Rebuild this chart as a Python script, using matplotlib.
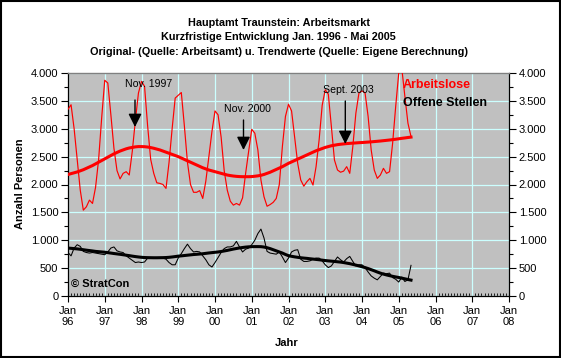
import numpy as np
import matplotlib
matplotlib.use("Agg")
import matplotlib.pyplot as plt
from matplotlib.patches import Rectangle
from matplotlib.ticker import FixedLocator, FuncFormatter, MultipleLocator

plt.rcParams['font.family'] = ['Liberation Sans', 'DejaVu Sans']

# ---------------- data ----------------
start_year = 1996  # first value = Jan 1996, monthly until May 2005

arbeitslose = [
    3350, 3430, 3000, 2450, 1900, 1540, 1600, 1720, 1660, 1950, 2450, 3200,
    3870, 3820, 3250, 2650, 2250, 2100, 2200, 2230, 2170, 2600, 3150, 3640,
    3850, 3760, 3050, 2450, 2200, 2030, 2020, 2000, 1930, 2400, 3000, 3550,
    3600, 3650, 3050, 2400, 2000, 1860, 1860, 1890, 1750, 2060, 2500, 2950,
    3320, 3250, 2850, 2250, 1900, 1700, 1630, 1660, 1630, 1760, 2200, 2600,
    2990, 2920, 2620, 2080, 1780, 1610, 1640, 1680, 1750, 2000, 2680, 3220,
    3440, 3320, 2850, 2380, 2080, 1970, 2050, 2110, 1990, 2320, 2800, 3420,
    3700, 3620, 3040, 2440, 2260, 2220, 2240, 2320, 2200, 2680, 3280, 3640,
    3680, 3640, 3220, 2620, 2260, 2110, 2170, 2290, 2200, 2230, 2740, 3400,
    4000, 4080, 3580, 3100, 2860,
]

arbeitslose_trend = [
    2180, 2195, 2210, 2225, 2245, 2265, 2290, 2315, 2340, 2370, 2400, 2430,
    2460, 2490, 2520, 2550, 2575, 2600, 2620, 2640, 2655, 2665, 2675, 2680,
    2680, 2678, 2672, 2662, 2650, 2635, 2620, 2600, 2580, 2560, 2540, 2520,
    2500, 2475, 2450, 2425, 2400, 2375, 2350, 2325, 2300, 2280, 2260, 2245,
    2230, 2215, 2200, 2185, 2170, 2160, 2152, 2146, 2142, 2140, 2140, 2140,
    2142, 2148, 2155, 2165, 2180, 2200, 2220, 2245, 2270, 2295, 2320, 2350,
    2380, 2405, 2430, 2455, 2480, 2505, 2530, 2555, 2580, 2605, 2625, 2645,
    2665, 2680, 2695, 2705, 2715, 2722, 2728, 2734, 2738, 2742, 2746, 2750,
    2753, 2757, 2761, 2765, 2770, 2775, 2780, 2786, 2792, 2798, 2805, 2812,
    2820, 2828, 2835, 2843, 2850,
]

offene_stellen = [
    780, 720, 860, 920, 890, 800, 780, 770, 780, 770, 760, 750,
    740, 790, 860, 880, 810, 790, 780, 720, 680, 640, 600, 610,
    600, 610, 680, 690, 680, 680, 690, 680, 660, 600, 560, 560,
    680, 760, 850, 930, 850, 790, 800, 790, 720, 650, 560, 520,
    600, 690, 780, 850, 880, 880, 900, 980, 880, 790, 840, 860,
    920, 1000, 1120, 1200, 1040, 800, 770, 760, 750, 790, 700, 600,
    680, 790, 820, 830, 660, 620, 620, 630, 660, 680, 680, 630,
    560, 510, 540, 620, 700, 650, 610, 670, 710, 620, 540, 560,
    560, 510, 430, 360, 320, 290, 350, 410, 400, 410, 330, 300,
    250, 340, 260, 290, 550,
]

offene_trend = [
    860, 855, 850, 845, 838, 830, 822, 815, 808, 800, 795, 790,
    785, 778, 770, 762, 755, 748, 740, 732, 724, 715, 707, 700,
    694, 690, 688, 687, 686, 686, 687, 688, 690, 694, 700, 707,
    715, 720, 726, 732, 738, 744, 748, 753, 758, 765, 772, 778,
    784, 790, 798, 808, 818, 830, 842, 852, 862, 870, 877, 882,
    885, 886, 886, 885, 878, 866, 850, 830, 810, 790, 770, 745,
    723, 712, 702, 694, 686, 680, 675, 668, 662, 656, 650, 643,
    636, 630, 625, 620, 614, 608, 600, 590, 580, 567, 554, 540,
    525, 510, 492, 472, 452, 430, 410, 393, 378, 365, 353, 342,
    332, 320, 308, 296, 285,
]

year_ticks = list(range(1996, 2009))
year_labels = [f"Jan\n{y % 100:02d}" for y in year_ticks]

annotation_texts = ["Nov. 1997", "Nov. 2000", "Sept. 2003"]

# ---------------- figure ----------------
W, H = 561, 358
fig = plt.figure(figsize=(W / 100, H / 100), dpi=100)
fig.patch.set_facecolor('white')

def fx(px):
    return px / W

def fy(py):
    return 1 - py / H

L, R, T, B = 68, 509, 73, 296
ax = fig.add_axes([fx(L), fy(B), fx(R) - fx(L), fy(T) - fy(B)])
ax.set_facecolor('#C0C0C0')

x = start_year + np.arange(len(arbeitslose)) / 12.0
xt = start_year + np.arange(len(arbeitslose_trend)) / 12.0
xo = start_year + np.arange(len(offene_stellen)) / 12.0
xot = start_year + np.arange(len(offene_trend)) / 12.0

ax.plot(x, arbeitslose, color='#FF0000', lw=0.85, zorder=3)
ax.plot(xt, arbeitslose_trend, color='#FF0000', lw=2.2, zorder=4)
ax.plot(xo, offene_stellen, color='black', lw=0.75, zorder=3)
ax.plot(xot, offene_trend, color='black', lw=2.2, zorder=4)

ax.set_xlim(1996, 2008)
ax.set_ylim(0, 4000)

ax.xaxis.set_major_locator(FixedLocator(year_ticks))
ax.set_xticklabels(year_labels)
ax.xaxis.set_minor_locator(MultipleLocator(1 / 12))
ax.yaxis.set_major_locator(MultipleLocator(500))
ax.yaxis.set_minor_locator(MultipleLocator(250))
ax.yaxis.set_major_formatter(FuncFormatter(lambda v, p: f"{v:,.0f}".replace(",", ".")))

ax.grid(True, which='major', color='#CCFFFF', lw=0.9)
ax.set_axisbelow(True)

ax.tick_params(axis='x', which='major', direction='out', length=4, width=0.8,
               labelsize=8, pad=3, colors='black')
ax.tick_params(axis='x', which='minor', direction='in', length=2, width=0.6)
ax.tick_params(axis='y', which='major', direction='out', length=5, width=0.8,
               labelsize=8, pad=2, left=True, right=True, labelleft=True, labelright=True)
ax.tick_params(axis='y', which='minor', direction='out', length=3, width=0.8,
               left=True, right=True)

for s in ['left', 'right', 'bottom']:
    ax.spines[s].set_color('black')
    ax.spines[s].set_linewidth(0.9)
ax.spines['top'].set_color('#808080')
ax.spines['top'].set_linewidth(1.0)

# Titles
tfs = 7.8
fig.text(0.497, fy(22.5), "Hauptamt Traunstein: Arbeitsmarkt", ha='center', va='center',
         fontsize=tfs, fontweight='bold')
fig.text(0.497, fy(37), "Kurzfristige Entwicklung Jan. 1996 - Mai 2005", ha='center', va='center',
         fontsize=tfs, fontweight='bold')
fig.text(0.497, fy(52), "Original- (Quelle: Arbeitsamt) u. Trendwerte (Quelle: Eigene Berechnung)",
         ha='center', va='center', fontsize=tfs, fontweight='bold')

fig.text(fx(20), fy(184), "Anzahl Personen", rotation=90, ha='center', va='center',
         fontsize=8, fontweight='bold')
fig.text(fx(287), fy(342.5), "Jahr", ha='center', va='center', fontsize=8, fontweight='bold')

# Legend texts
fig.text(fx(403), fy(85.5), "Arbeitslose", ha='left', va='center', fontsize=9,
         fontweight='bold', color='#FF0000')
fig.text(fx(403), fy(102.5), "Offene Stellen", ha='left', va='center', fontsize=9,
         fontweight='bold', color='black')

fig.text(fx(71), fy(283.5), "\u00a9 StratCon", ha='left', va='center', fontsize=8,
         fontweight='bold')

# Annotations (pixel coordinates of text and arrows)
def px_to_data(px, py):
    xd = 1996 + (px - L) / (R - L) * 12
    yd = (B - py) / (B - T) * 4000
    return xd, yd

arrow_geom = [
    ((149, 84), (135, 100), (135, 127)),
    ((247.5, 109), (243.5, 120), (243.5, 150)),
    ((348.5, 90), (345.3, 101), (345.3, 144)),
]
for txt, (tpos, a0, a1) in zip(annotation_texts, arrow_geom):
    tx, ty = px_to_data(*tpos)
    ax.text(tx, ty, txt, ha='center', va='center', fontsize=7.6, zorder=6)
    x0, y0 = px_to_data(*a0)
    x1, y1 = px_to_data(*a1)
    ax.annotate("", xy=(x1, y1), xytext=(x0, y0),
                arrowprops=dict(arrowstyle='-|>,head_length=0.8,head_width=0.4',
                                mutation_scale=10, lw=1.0, color='black',
                                shrinkA=0, shrinkB=0),
                zorder=6)

# Outer frame
fig.patches.append(Rectangle((0.001, 0.002), 0.997, 0.995, transform=fig.transFigure,
                             fill=False, edgecolor='black', lw=1.5))

fig.savefig("out.png", dpi=100)
